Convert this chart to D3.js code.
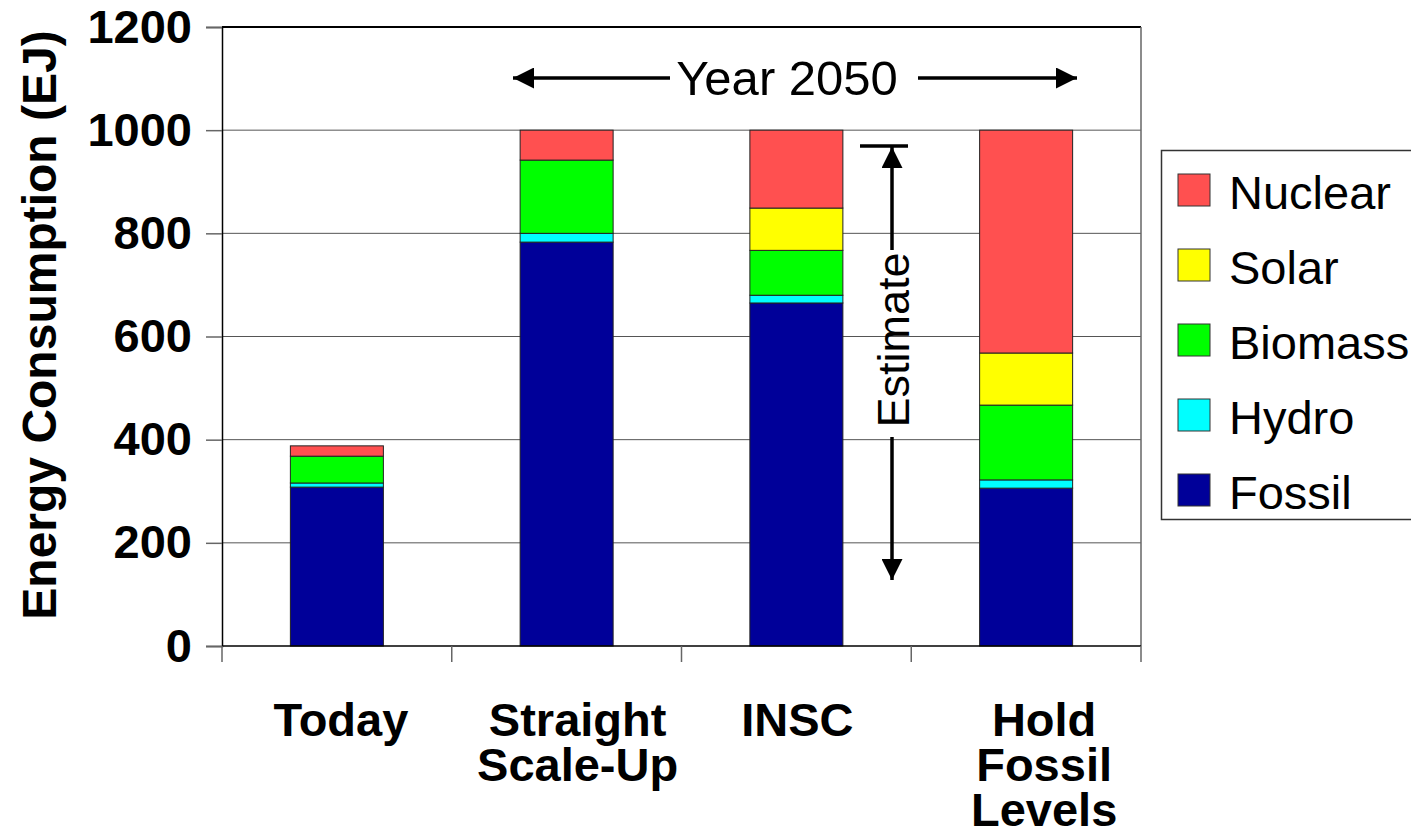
<!DOCTYPE html>
<html>
<head>
<meta charset="utf-8">
<script src="https://cdn.jsdelivr.net/npm/d3@7"></script>
<style>
  html, body { margin: 0; padding: 0; background: #fff; }
  svg { display: block; font-family: "Liberation Sans", Arial, sans-serif; }
</style>
</head>
<body>
<svg id="chart" width="1411" height="835"></svg>
<script>
// Scenario categories (label lines) and energy sources, bottom to top
const categories = ["Today", "Straight Scale-Up", "INSC", "Hold Fossil Levels"];
const categoryLines = [["Today"], ["Straight", "Scale-Up"], ["INSC"], ["Hold", "Fossil", "Levels"]];
const sources = ["Fossil", "Hydro", "Biomass", "Solar", "Nuclear"];
const colors = ["#000099", "#00FFFF", "#00FF00", "#FFFF00", "#FF5050"];

// Energy consumption by source (EJ), one array per source, in category order
const fossil  = [308, 783, 665, 306];
const hydro   = [8, 17, 15, 16];
const biomass = [52, 142, 87, 145];
const solar   = [0, 0, 82, 101];
const nuclear = [20, 58, 151, 432];

const yTicks = [0, 200, 400, 600, 800, 1000, 1200];

const svg = d3.select("#chart");
const margin = { left: 222, right: 1141, top: 27, bottom: 646 };

const x = d3.scaleBand().domain(categories).range([margin.left, margin.right]).paddingInner(0).paddingOuter(0);
const y = d3.scaleLinear().domain([0, 1200]).range([margin.bottom, margin.top]);

const table = categories.map((c, i) => ({
  category: c,
  Fossil: fossil[i], Hydro: hydro[i], Biomass: biomass[i], Solar: solar[i], Nuclear: nuclear[i]
}));
const stacked = d3.stack().keys(sources)(table);
const color = d3.scaleOrdinal().domain(sources).range(colors);

// Gridlines
svg.append("g")
  .selectAll("line")
  .data(yTicks.filter(d => d > 0))
  .join("line")
  .attr("x1", margin.left).attr("x2", margin.right)
  .attr("y1", d => y(d)).attr("y2", d => y(d))
  .attr("stroke", d => d === 1200 ? "#000" : "#555")
  .attr("stroke-width", d => d === 1200 ? 2 : 1);

// Right border of plot area
svg.append("line")
  .attr("x1", margin.right).attr("x2", margin.right)
  .attr("y1", margin.top).attr("y2", margin.bottom)
  .attr("stroke", "#666").attr("stroke-width", 1.5);

// Stacked bars
const barW = 93;
svg.append("g")
  .selectAll("g")
  .data(stacked)
  .join("g")
  .attr("fill", d => color(d.key))
  .selectAll("rect")
  .data(d => d.filter(s => s[1] - s[0] > 0))
  .join("rect")
  .attr("x", d => x(d.data.category) + x.bandwidth() / 2 - barW / 2)
  .attr("width", barW)
  .attr("y", d => y(d[1]))
  .attr("height", d => y(d[0]) - y(d[1]))
  .attr("stroke", "#222")
  .attr("stroke-width", 1);

// Y axis
const yAxis = d3.axisLeft(y).tickValues(yTicks).tickFormat(d3.format("d")).tickSize(16).tickPadding(14);
const gy = svg.append("g").attr("transform", `translate(${margin.left},0)`).call(yAxis);
gy.select(".domain").attr("stroke", "#000").attr("stroke-width", 1.5);
gy.selectAll(".tick line").attr("stroke", "#666").attr("stroke-width", 1.5);
gy.selectAll(".tick text")
  .attr("font-size", 47).attr("font-weight", "bold").attr("fill", "#000")
  .attr("font-family", "Liberation Sans, Arial, sans-serif");

// X axis (baseline with category separator ticks)
svg.append("line")
  .attr("x1", margin.left).attr("x2", margin.right)
  .attr("y1", margin.bottom).attr("y2", margin.bottom)
  .attr("stroke", "#000").attr("stroke-width", 1.5);
const sepX = categories.map(c => x(c)).concat([margin.right]);
svg.append("g").selectAll("line").data(sepX).join("line")
  .attr("x1", d => d).attr("x2", d => d)
  .attr("y1", margin.bottom).attr("y2", margin.bottom + 16)
  .attr("stroke", "#666").attr("stroke-width", 1.5);

// Category labels, one text per category with a tspan per line
const labelShift = [4, 11, 1, 18];
svg.append("g").selectAll("text")
  .data(categories)
  .join("text")
  .attr("text-anchor", "middle")
  .attr("font-size", 47).attr("font-weight", "bold")
  .each(function (c, i) {
    const cx = x(c) + x.bandwidth() / 2 + labelShift[i];
    d3.select(this).selectAll("tspan")
      .data(categoryLines[i])
      .join("tspan")
      .attr("x", cx)
      .attr("y", (d, j) => 736 + j * 45)
      .text(d => d);
  });

// Y axis title
svg.append("text")
  .attr("transform", `translate(56,325) rotate(-90)`)
  .attr("text-anchor", "middle")
  .attr("font-size", 48).attr("font-weight", "bold")
  .text("Energy Consumption (EJ)");

// Arrowhead marker
const defs = svg.append("defs");
defs.append("marker")
  .attr("id", "head").attr("viewBox", "0 0 10 10")
  .attr("refX", 10).attr("refY", 5)
  .attr("markerWidth", 6).attr("markerHeight", 6)
  .attr("markerUnits", "strokeWidth")
  .attr("orient", "auto")
  .append("path").attr("d", "M0,0 L10,5 L0,10 Z").attr("fill", "#000");

// "Year 2050" span annotation
const annY = 78;
svg.append("line").attr("x1", 670).attr("x2", 513).attr("y1", annY).attr("y2", annY)
  .attr("stroke", "#000").attr("stroke-width", 3.5).attr("marker-end", "url(#head)");
svg.append("line").attr("x1", 918).attr("x2", 1077).attr("y1", annY).attr("y2", annY)
  .attr("stroke", "#000").attr("stroke-width", 3.5).attr("marker-end", "url(#head)");
svg.append("text").attr("x", 787).attr("y", annY + 17)
  .attr("text-anchor", "middle").attr("font-size", 49).text("Year 2050");

// "Estimate" vertical annotation
const estX = 892;
svg.append("line").attr("x1", 860).attr("x2", 908).attr("y1", 146).attr("y2", 146)
  .attr("stroke", "#000").attr("stroke-width", 3.5);
svg.append("line").attr("x1", estX).attr("x2", estX).attr("y1", 250).attr("y2", 147)
  .attr("stroke", "#000").attr("stroke-width", 3.5).attr("marker-end", "url(#head)");
svg.append("line").attr("x1", estX).attr("x2", estX).attr("y1", 437).attr("y2", 580)
  .attr("stroke", "#000").attr("stroke-width", 3.5).attr("marker-end", "url(#head)");
svg.append("text")
  .attr("transform", `translate(${estX + 17},340) rotate(-90)`)
  .attr("text-anchor", "middle").attr("font-size", 45).text("Estimate");

// Legend
const legend = svg.append("g");
legend.append("rect")
  .attr("x", 1161.5).attr("y", 150.5).attr("width", 260).attr("height", 369)
  .attr("fill", "#fff").attr("stroke", "#333").attr("stroke-width", 1.5);
const legendOrder = sources.slice().reverse();
legendOrder.forEach((s, i) => {
  const ly = 174 + i * 75;
  legend.append("rect")
    .attr("x", 1178).attr("y", ly).attr("width", 32).attr("height", 32)
    .attr("fill", color(s)).attr("stroke", "#333").attr("stroke-width", 1);
  legend.append("text")
    .attr("x", 1229).attr("y", ly + 35)
    .attr("font-size", 47).text(s);
});
</script>
</body>
</html>
